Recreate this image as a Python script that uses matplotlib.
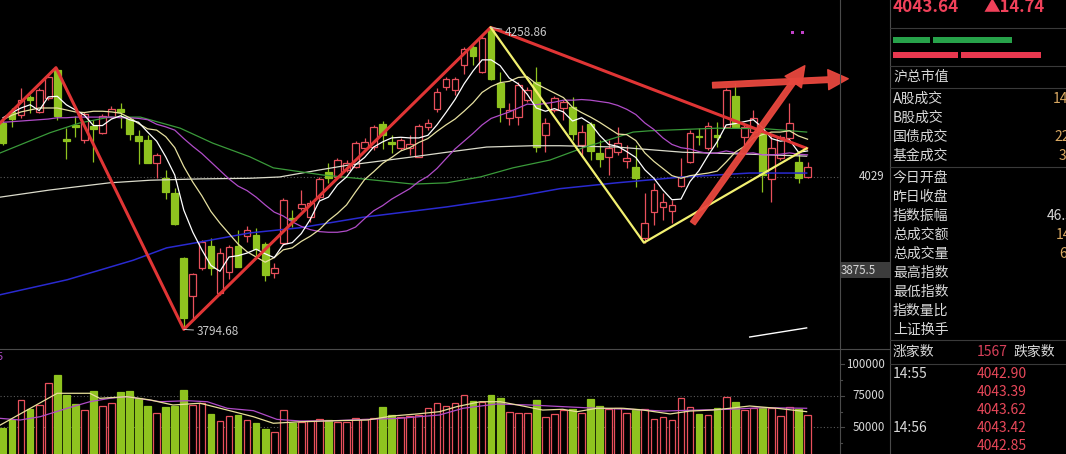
import matplotlib
matplotlib.use("Agg")
import matplotlib.pyplot as plt
from matplotlib import transforms
from matplotlib.patches import Rectangle

plt.rcParams['font.family'] = ['Noto Sans CJK SC', 'DejaVu Sans']

W, H = 1066, 454
UP = "#e8505c"       # red, hollow
DOWN = "#8fc31f"     # yellow-green, filled
TXT = "#d8d8d8"

# ---- daily candles (index points) ----
opens = [4112, 4129, 4124, 4152, 4129, 4150, 4193, 4087, 4109, 4086,
         4107, 4097, 4121, 4133, 4118, 4092, 4086, 4050, 4027, 4004,
         3904, 3846, 3889, 3923, 3851, 3883, 3923, 3938, 3940, 3926,
         3881, 3928, 3966, 3981, 3967, 3998, 4037, 4029, 4040, 4044,
         4074, 4075, 4110, 4083, 4074, 4074, 4060, 4106, 4133, 4167,
         4163, 4201, 4229, 4190, 4258, 4173, 4120, 4121, 4147, 4175,
         4094, 4132, 4135, 4137, 4078, 4110, 4066, 4060, 4067, 4054,
         4044, 3935, 3975, 3983, 3977, 4015, 4052, 4092, 4074, 4094,
         4106, 4153, 4090, 4098, 4097, 4026, 4058, 4089, 4052, 4029]
highs = [4120, 4135, 4166, 4155, 4166, 4186, 4196, 4104, 4123, 4129,
         4117, 4126, 4138, 4143, 4121, 4101, 4094, 4066, 4040, 4012,
         3906, 3881, 3932, 3935, 3920, 3924, 3947, 3954, 3951, 3929,
         3897, 3997, 3978, 4009, 3994, 4029, 4050, 4058, 4055, 4084,
         4089, 4109, 4115, 4094, 4089, 4094, 4110, 4118, 4166, 4183,
         4183, 4229, 4232, 4246, 4258.86, 4190, 4143, 4175, 4167, 4198,
         4120, 4153, 4147, 4152, 4109, 4113, 4086, 4086, 4106, 4078,
         4078, 4004, 4020, 4004, 3994, 4058, 4101, 4104, 4113, 4113,
         4166, 4173, 4109, 4132, 4106, 4094, 4094, 4143, 4067, 4052]
lows = [4078, 4106, 4120, 4127, 4127, 4147, 4117, 4057, 4090, 4081,
        4052, 4095, 4120, 4104, 4086, 4049, 4050, 4027, 3995, 3955,
        3794.68, 3809, 3886, 3878, 3848, 3872, 3891, 3929, 3906, 3869,
        3874, 3924, 3952, 3978, 3960, 3994, 4020, 4027, 4037, 4043,
        4070, 4070, 4072, 4066, 4070, 4063, 4060, 4101, 4129, 4163,
        4155, 4187, 4201, 4189, 4178, 4113, 4109, 4109, 4144, 4067,
        4067, 4129, 4117, 4086, 4060, 4055, 4044, 4032, 4063, 4043,
        4014, 3928, 3955, 3963, 3958, 4014, 4050, 4078, 4070, 4075,
        4104, 4104, 4074, 4094, 4006, 3991, 4055, 4086, 4020, 4027]
closes = [4081, 4118, 4147, 4147, 4163, 4183, 4123, 4084, 4106, 4126,
          4103, 4123, 4133, 4129, 4095, 4084, 4050, 4063, 4006, 3957,
          3812, 3880, 3929, 3889, 3912, 3921, 3891, 3947, 3918, 3878,
          3889, 3994, 3963, 3987, 3989, 4026, 4027, 4055, 4050, 4081,
          4083, 4106, 4094, 4080, 4086, 4080, 4107, 4112, 4160, 4180,
          4180, 4226, 4215, 4243, 4180, 4137, 4132, 4170, 4163, 4075,
          4112, 4150, 4144, 4095, 4098, 4069, 4057, 4074, 4081, 4058,
          4027, 3958, 4009, 3991, 3986, 4029, 4097, 4090, 4107, 4090,
          4163, 4106, 4106, 4120, 4032, 4074, 4090, 4112, 4027, 4043.64]
volumes = [49700, 55800, 71700, 64500, 67700, 84900, 91500, 75600, 68300, 63700,
           78800, 66900, 69500, 77800, 78800, 73000, 66900, 61600, 66100, 66700,
           79600, 67700, 69100, 60600, 55000, 59000, 60000, 55800, 53600, 48900,
           46300, 63700, 53600, 54400, 55000, 56300, 55800, 54400, 54400, 57600,
           56600, 57100, 66400, 59800, 58400, 59000, 59800, 65100, 69100, 67100,
           69100, 75400, 70900, 70300, 75600, 73300, 61900, 61100, 61100, 71700,
           57900, 60600, 63700, 64500, 61100, 72500, 66900, 64300, 65100, 61600,
           64500, 64500, 56600, 58400, 55800, 73000, 66400, 60600, 59800, 65100,
           73800, 69800, 63700, 65100, 65100, 65100, 59000, 66400, 64500, 59800]

# ---- moving averages (one value per candle) ----
ma5 = [4120, 4128, 4135, 4140, 4131, 4152, 4153, 4140, 4132, 4124,
       4108, 4108, 4118, 4123, 4117, 4113, 4098, 4084, 4060, 4032,
       3978, 3944, 3917, 3893, 3884, 3906, 3908, 3912, 3918, 3911,
       3905, 3925, 3928, 3942, 3964, 3992, 3998, 4017, 4029, 4048,
       4059, 4075, 4083, 4089, 4090, 4089, 4089, 4093, 4109, 4128,
       4148, 4172, 4192, 4209, 4209, 4200, 4181, 4172, 4156, 4135,
       4130, 4134, 4129, 4115, 4120, 4111, 4093, 4079, 4076, 4068,
       4059, 4040, 4027, 4009, 3994, 3995, 4022, 4039, 4062, 4083,
       4109, 4111, 4114, 4117, 4105, 4088, 4084, 4086, 4067, 4069]
ma10 = [4117, 4124, 4129, 4132, 4135, 4135, 4135, 4132, 4129, 4128,
        4130, 4130, 4129, 4127, 4120, 4111, 4103, 4101, 4091, 4074,
        4045, 4021, 4000, 3976, 3958, 3942, 3926, 3914, 3906, 3898,
        3905, 3917, 3920, 3930, 3938, 3948, 3962, 3973, 3986, 4006,
        4025, 4037, 4050, 4059, 4069, 4074, 4082, 4088, 4099, 4109,
        4118, 4130, 4143, 4159, 4168, 4174, 4176, 4182, 4183, 4172,
        4165, 4158, 4151, 4136, 4128, 4121, 4113, 4104, 4095, 4094,
        4085, 4066, 4053, 4042, 4031, 4027, 4031, 4033, 4035, 4038,
        4052, 4067, 4076, 4089, 4094, 4098, 4098, 4100, 4092, 4087]
ma20 = [4113, 4114, 4115, 4116, 4117, 4118, 4120, 4120, 4121, 4121,
        4121, 4121, 4121, 4120, 4120, 4119, 4117, 4110, 4106, 4101,
        4088, 4076, 4065, 4052, 4039, 4026, 4015, 4008, 3998, 3986,
        3975, 3969, 3960, 3953, 3948, 3945, 3944, 3944, 3946, 3952,
        3965, 3977, 3985, 3995, 4003, 4011, 4022, 4030, 4042, 4057,
        4072, 4084, 4096, 4109, 4119, 4124, 4129, 4135, 4141, 4140,
        4142, 4144, 4147, 4147, 4148, 4147, 4145, 4143, 4139, 4133,
        4125, 4112, 4102, 4089, 4079, 4074, 4072, 4068, 4065, 4066,
        4069, 4066, 4065, 4066, 4063, 4063, 4064, 4066, 4064, 4063]

# longer averages, sampled at candle positions
ma_green_x = [-0.3, 5.2, 8.5, 11.8, 15.2, 19.6, 23.2, 27.3, 29.9, 32.9, 35.4,
              39.8, 45.4, 49.1, 52.8, 56.4, 60.5, 64.2, 67.9, 69.7, 71.6, 79.0,
              84.5, 88.9]
ma_green = [4066, 4097, 4112, 4121, 4121, 4104, 4081, 4060, 4043, 4037, 4032,
            4026, 4018, 4020, 4029, 4043, 4055, 4074, 4090, 4098, 4100, 4104,
            4103, 4098]
ma_pale_x = [-0.3, 5.2, 11.8, 16.3, 21.8, 27.3, 30.6, 35.1, 38.1, 45.4, 49.1,
             53.5, 58.6, 61.6, 67.9, 75.2, 82.6, 88.9]
ma_pale = [3998, 4009, 4020, 4024, 4026, 4027, 4029, 4040, 4047, 4060, 4067,
           4075, 4077, 4077, 4075, 4067, 4064, 4061]
ma_blue_x = [-0.3, 7.1, 14.4, 18.1, 21.8, 27.3, 32.9, 39.8, 49.1, 56.4, 61.6,
             67.9, 75.2, 82.6, 88.9]
ma_blue = [3848, 3871, 3901, 3920, 3929, 3943, 3951, 3967, 3983, 3998, 4011,
           4020, 4029, 4035, 4035]
short_white_x = [82.6, 88.9]
short_white = [3783, 3797]

# volume averages
vma5_x = [-0.3, 6.0, 9.6, 10.7, 13.7, 16.3, 18.8, 21.8, 24.8, 27.7, 29.9, 32.9,
          36.5, 40.3, 43.1, 45.8, 48.3, 50.2, 52.8, 55.0, 57.5, 59.7, 61.9, 63.5,
          65.7, 68.6, 70.8, 73.8, 76.0, 78.5, 80.4, 82.6, 85.6, 88.9]
vma5 = [51800, 77000, 77000, 73000, 74300, 71700, 67700, 69100, 63700, 58400,
        53200, 54400, 55200, 55800, 59000, 60600, 62400, 66400, 70300, 70300,
        66900, 63700, 64300, 62400, 65100, 65100, 63700, 60600, 62900, 63700,
        65100, 66900, 65100, 62400]
vma10_x = [-0.3, 1.9, 4.1, 7.1, 9.6, 11.8, 13.7, 17.4, 20.4, 22.6, 24.8, 27.7,
           30.3, 32.9, 36.5, 40.3, 43.9, 48.3, 50.9, 54.6, 58.3, 61.9, 65.7, 69.4,
           73.0, 76.8, 80.4, 84.1, 88.9]
vma10 = [57100, 55800, 58400, 65100, 70300, 73000, 74300, 70300, 71100, 70300,
         65100, 63200, 56300, 55000, 55200, 56300, 57100, 59800, 65100, 68500,
         67700, 66400, 65100, 64300, 62900, 63700, 64300, 65600, 65100]

# hand-drawn trend lines
red_zz_x = [-0.33, 5.86, 20.0, 53.95, 88.9]
red_zz = [4112, 4197, 3794.68, 4258.86, 4073]
yel_zz_x = [53.95, 70.9, 88.9]
yel_zz = [4258.86, 3928, 4073]

# right-hand quote panel
last_price = "4043.64"
last_change = "▲14.74"
panel_labels = ["沪总市值", "A股成交", "B股成交", "国债成交", "基金成交",
                "今日开盘", "昨日收盘", "指数振幅", "总成交额", "总成交量",
                "最高指数", "最低指数", "指数量比", "上证换手"]
panel_values = {"A股成交": "1456亿", "国债成交": "2231亿", "基金成交": "312亿",
                "指数振幅": "46.3", "总成交额": "1456亿", "总成交量": "6亿"}
advancers = "1567"
ticks_time = ["14:55", "", "", "14:56", ""]
ticks_price = ["4042.90", "4043.39", "4043.62", "4043.42", "4042.85"]

n = len(closes)
idx = list(range(n))
cols = [UP if c >= o else DOWN for o, c in zip(opens, closes)]

fig = plt.figure(figsize=(W / 100, H / 100), dpi=100, facecolor="black")
ax = fig.add_axes([0, 106 / H, 840 / W, 348 / H])
axv = fig.add_axes([0, 0, 840 / W, 105 / H])
for a in (ax, axv):
    a.set_facecolor("black")
    a.set_xlim(-0.332, 92.59)
    a.set_xticks([]); a.set_yticks([])
    for s in a.spines.values():
        s.set_visible(False)
ax.set_ylim(3766.1, 4301.0)
axv.set_ylim(28810, 112143)

# candles
ax.vlines(idx, lows, highs, colors=cols, lw=0.9, zorder=2)
bottoms = [min(o, c) for o, c in zip(opens, closes)]
heights = [max(abs(c - o), 1.3) for o, c in zip(opens, closes)]
faces = ["black" if c == UP else DOWN for c in cols]
ax.bar(idx, heights, bottom=bottoms, width=0.74, color=faces, edgecolor=cols,
       lw=0.9, zorder=2.5)

# averages
ax.plot(ma_blue_x, ma_blue, color="#2a2ad0", lw=1.1, zorder=3)
ax.plot(ma_pale_x, ma_pale, color="#dcdccc", lw=0.9, zorder=3)
ax.plot(ma_green_x, ma_green, color="#3a9a3a", lw=0.9, zorder=3)
ax.plot(idx, ma20, color="#b04cc8", lw=0.9, zorder=3)
ax.plot(idx, ma10, color="#e6e0a0", lw=0.9, zorder=3)
ax.plot(idx, ma5, color="white", lw=0.9, zorder=3)
ax.plot(short_white_x, short_white, color="white", lw=1.0, zorder=3)
ax.axhline(4029, color="#5a5a5a", ls=(0, (1, 2)), lw=0.8, zorder=1)

# trend lines
ax.plot(red_zz_x, red_zz, color="#e03535", lw=2.2, zorder=4)
ax.plot(yel_zz_x, yel_zz, color="#f2f070", lw=1.6, zorder=4)

# extreme labels
ax.annotate("4258.86", xy=(53.95, 4258.86), xytext=(10, -4), textcoords="offset points",
            color="#c8c8c8", fontsize=8.5, ha="left", va="center",
            arrowprops=dict(arrowstyle="-", color="#c8c8c8", lw=0.7,
                            shrinkA=0, shrinkB=0), zorder=5)
ax.annotate("3794.68", xy=(20.0, 3794.68), xytext=(9, -1.5), textcoords="offset points",
            color="#c8c8c8", fontsize=8.5, ha="left", va="center",
            arrowprops=dict(arrowstyle="-", color="#c8c8c8", lw=0.7,
                            shrinkA=0, shrinkB=0), zorder=5)

# hand-drawn red arrows
for tail, tip in (((76.3, 3958), (88.7, 4200)), ((78.5, 4170), (93.5, 4180))):
    ann = ax.annotate("", xy=tip, xytext=tail, annotation_clip=False,
                      arrowprops=dict(arrowstyle="simple,head_length=0.9,head_width=0.9,tail_width=0.25",
                                      color="#e8473e", alpha=0.95, mutation_scale=16,
                                      shrinkA=0, shrinkB=0), zorder=6)
    ann.arrow_patch.set_clip_on(False)

# volume
vfaces = ["black" if c == UP else DOWN for c in cols]
axv.bar(idx, volumes, width=0.74, color=vfaces, edgecolor=cols, lw=0.9, zorder=2)
axv.plot(vma10_x, vma10, color="#b04cc8", lw=0.9, zorder=3)
axv.plot(vma5_x, vma5, color="#e8e09a", lw=0.9, zorder=3)
for v in (75000, 50000):
    axv.axhline(v, color="#5a5a5a", ls=(0, (1, 2)), lw=0.8, zorder=1)

# overlay in pixel coordinates for frame and quote panel
ov = fig.add_axes([0, 0, 1, 1])
ov.set_xlim(0, W); ov.set_ylim(H, 0)
ov.axis("off"); ov.patch.set_alpha(0)
grid = "#4a4a4a"
ov.plot([839.5, 839.5], [0, H], color=grid, lw=0.8)
ov.plot([889.5, 889.5], [0, H], color=grid, lw=0.8)
ov.plot([0, 889.5], [348.5, 348.5], color=grid, lw=0.8)
for y in (28, 66, 88, 167, 340, 364):
    ov.plot([889.5, W], [y, y], color="#3a3a3a", lw=0.8)

# axis labels
tp = transforms.blended_transform_factory(ov.transData, ax.transData)
ov.text(884, 4029, "4029", transform=tp, color=TXT, fontsize=8.3, ha="right", va="center")
ov.add_patch(Rectangle((840, 262), 50, 16, facecolor="#3c3c3c", edgecolor="none"))
ov.text(841, 270, "3875.5", color=TXT, fontsize=8.3, ha="left", va="center")
tv = transforms.blended_transform_factory(ov.transData, axv.transData)
for v in (100000, 75000, 50000):
    ov.text(885, v, str(v), transform=tv, color=TXT, fontsize=8.3, ha="right", va="center")
    ov.plot([840, 844], [v, v], transform=tv, color=grid, lw=0.8)
for v in (87500, 62500, 37500):
    ov.plot([840, 842], [v, v], transform=tv, color=grid, lw=0.8)
ov.text(-3, 357, "5", color="#b04cc8", fontsize=8, ha="left", va="center")
for x in (792, 802):
    ov.add_patch(Rectangle((x - 1.5, 30.5), 3, 3, facecolor="#c040c8", edgecolor="none"))

# quote panel
ov.text(893, 6.5, last_price, color="#f0415a", fontsize=12.3, fontweight="bold",
        ha="left", va="center")
ov.text(983, 6.5, last_change, color="#f0415a", fontsize=12, fontweight="bold",
        ha="left", va="center")
for x0, x1 in ((893, 930), (933, 1012)):
    ov.add_patch(Rectangle((x0, 37), x1 - x0, 6, facecolor="#27a24a", edgecolor="none"))
for x0, x1 in ((893, 958), (961, 1041)):
    ov.add_patch(Rectangle((x0, 52), x1 - x0, 6, facecolor="#e8384f", edgecolor="none"))
row_y = [77, 99, 118, 137, 156, 178, 197, 216, 235, 254, 273, 292, 311, 330]
value_x = {"A股成交": 1053, "国债成交": 1054, "基金成交": 1059,
           "指数振幅": 1047, "总成交额": 1056, "总成交量": 1059}
for lab, y in zip(panel_labels, row_y):
    ov.text(893, y, lab, color=TXT, fontsize=10, ha="left", va="center")
    if lab in panel_values:
        c = TXT if lab == "指数振幅" else "#d9a862"
        ov.text(value_x[lab], y, panel_values[lab], color=c, fontsize=10,
                ha="left", va="center")
ov.text(893, 352, "涨家数", color=TXT, fontsize=10, ha="left", va="center")
ov.text(977, 352, advancers, color="#d8405a", fontsize=10, ha="left", va="center")
ov.text(1013, 352, "跌家数", color=TXT, fontsize=10, ha="left", va="center")
for k, (t, p) in enumerate(zip(ticks_time, ticks_price)):
    y = 374 + k * 18
    if t:
        ov.text(893, y, t, color=TXT, fontsize=10, ha="left", va="center")
    ov.text(977, y, p, color="#e8485a", fontsize=10, ha="left", va="center")

fig.savefig("out.png", dpi=100, facecolor="black")
